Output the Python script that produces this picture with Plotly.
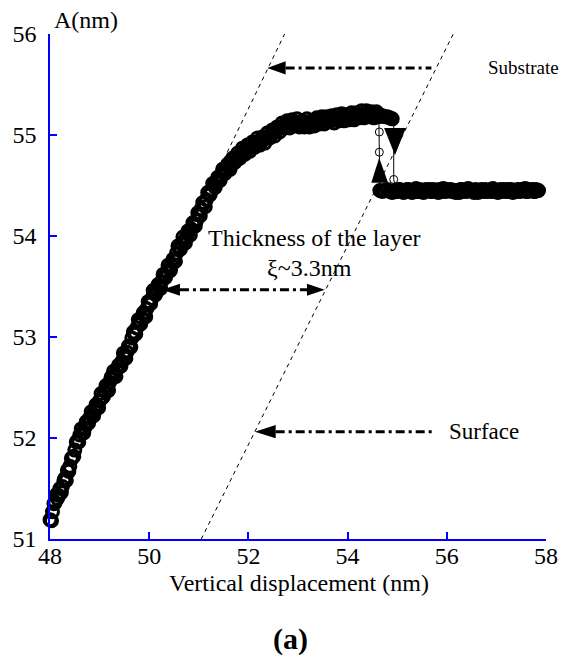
import plotly.graph_objects as go

# ---------------- data ----------------
# approach pass, upper branch (ascending displacement)
approach_upper_x = [48.00, 48.05, 48.10, 48.15, 48.20, 48.25, 48.30, 48.35, 48.40, 48.45,
                    48.50, 48.55, 48.60, 48.65, 48.70, 48.75, 48.80, 48.85, 48.90, 48.95,
                    49.00, 49.05, 49.10, 49.15, 49.20, 49.25, 49.30, 49.35, 49.40, 49.45,
                    49.50, 49.55, 49.60, 49.65, 49.70, 49.75, 49.80, 49.85, 49.90, 49.95,
                    50.00, 50.05, 50.10, 50.15, 50.20, 50.25, 50.30, 50.35, 50.40, 50.45,
                    50.50, 50.55, 50.60, 50.65, 50.70, 50.75, 50.80, 50.85, 50.90, 50.95,
                    51.00, 51.05, 51.10, 51.15, 51.20, 51.25, 51.30, 51.35, 51.40, 51.45,
                    51.50, 51.55, 51.60, 51.65, 51.70, 51.75, 51.80, 51.85, 51.90, 51.95,
                    52.00, 52.05, 52.10, 52.15, 52.20, 52.25, 52.30, 52.35, 52.40, 52.45,
                    52.50, 52.55, 52.60, 52.65, 52.70, 52.75, 52.80, 52.85, 52.90, 52.95,
                    53.00, 53.05, 53.10, 53.15, 53.20, 53.25, 53.30, 53.35, 53.40, 53.45,
                    53.50, 53.55, 53.60, 53.65, 53.70, 53.75, 53.80, 53.85, 53.90, 53.95,
                    54.00, 54.05, 54.10, 54.15, 54.20, 54.25, 54.30, 54.35, 54.40, 54.45,
                    54.50, 54.55, 54.60, 54.65, 54.70, 54.75, 54.80, 54.85, 54.90]
approach_upper_y = [51.19, 51.27, 51.36, 51.40, 51.50, 51.52, 51.60, 51.68, 51.72, 51.80,
                    51.88, 51.97, 52.03, 52.05, 52.10, 52.14, 52.20, 52.22, 52.28, 52.31,
                    52.37, 52.40, 52.46, 52.49, 52.55, 52.59, 52.62, 52.68, 52.72, 52.76,
                    52.81, 52.85, 52.91, 52.99, 53.03, 53.09, 53.15, 53.19, 53.22, 53.28,
                    53.33, 53.38, 53.44, 53.47, 53.50, 53.55, 53.60, 53.64, 53.68, 53.71,
                    53.77, 53.83, 53.88, 53.92, 53.95, 53.99, 54.04, 54.07, 54.11, 54.15,
                    54.21, 54.27, 54.32, 54.36, 54.42, 54.45, 54.50, 54.53, 54.57, 54.60,
                    54.63, 54.66, 54.68, 54.72, 54.76, 54.77, 54.79, 54.81, 54.84, 54.86,
                    54.87, 54.88, 54.90, 54.92, 54.93, 54.95, 54.95, 54.97, 54.99, 55.00,
                    55.02, 55.04, 55.06, 55.07, 55.09, 55.10, 55.10, 55.11, 55.12, 55.12,
                    55.12, 55.11, 55.12, 55.12, 55.13, 55.11, 55.12, 55.13, 55.14, 55.14,
                    55.15, 55.14, 55.15, 55.16, 55.15, 55.17, 55.16, 55.17, 55.18, 55.17,
                    55.17, 55.18, 55.19, 55.18, 55.19, 55.20, 55.19, 55.20, 55.21, 55.20,
                    55.20, 55.21, 55.19, 55.20, 55.19, 55.18, 55.18, 55.17, 55.16]
# approach pass: drop from upper to lower branch
approach_drop_x = [54.93, 54.93]
approach_drop_y = [55.15, 54.56]
# approach pass, lower branch
approach_lower_x = [54.98, 55.03, 55.08, 55.13, 55.18, 55.23, 55.28, 55.33, 55.38, 55.43,
                    55.48, 55.53, 55.58, 55.63, 55.68, 55.73, 55.78, 55.83, 55.88, 55.93,
                    55.98, 56.03, 56.08, 56.13, 56.18, 56.23, 56.28, 56.33, 56.38, 56.43,
                    56.48, 56.53, 56.58, 56.63, 56.68, 56.73, 56.78, 56.83, 56.88, 56.93,
                    56.98, 57.03, 57.08, 57.13, 57.18, 57.23, 57.28, 57.33, 57.38, 57.43,
                    57.48, 57.53, 57.58, 57.63, 57.68, 57.73, 57.78, 57.83]
approach_lower_y = [54.44, 54.46, 54.45, 54.43, 54.45, 54.46, 54.44, 54.45, 54.47, 54.44,
                    54.45, 54.43, 54.46, 54.45, 54.44, 54.46, 54.45, 54.43, 54.45, 54.47,
                    54.44, 54.45, 54.46, 54.44, 54.43, 54.45, 54.46, 54.44, 54.45, 54.47,
                    54.45, 54.44, 54.46, 54.43, 54.45, 54.44, 54.46, 54.45, 54.44, 54.47,
                    54.45, 54.43, 54.46, 54.45, 54.44, 54.46, 54.45, 54.43, 54.45, 54.46,
                    54.44, 54.45, 54.47, 54.44, 54.45, 54.46, 54.44, 54.45]

# retract pass, lower branch (descending displacement)
retract_lower_x = [57.85, 57.80, 57.75, 57.70, 57.65, 57.60, 57.55, 57.50, 57.45, 57.40,
                   57.35, 57.30, 57.25, 57.20, 57.15, 57.10, 57.05, 57.00, 56.95, 56.90,
                   56.85, 56.80, 56.75, 56.70, 56.65, 56.60, 56.55, 56.50, 56.45, 56.40,
                   56.35, 56.30, 56.25, 56.20, 56.15, 56.10, 56.05, 56.00, 55.95, 55.90,
                   55.85, 55.80, 55.75, 55.70, 55.65, 55.60, 55.55, 55.50, 55.45, 55.40,
                   55.35, 55.30, 55.25, 55.20, 55.15, 55.10, 55.05, 55.00, 54.95, 54.90,
                   54.85, 54.80, 54.75, 54.70, 54.65]
retract_lower_y = [54.45, 54.46, 54.44, 54.45, 54.46, 54.44, 54.45, 54.46, 54.45, 54.44,
                   54.45, 54.46, 54.44, 54.45, 54.46, 54.44, 54.45, 54.45, 54.44, 54.46,
                   54.45, 54.44, 54.45, 54.46, 54.44, 54.45, 54.43, 54.45, 54.46, 54.44,
                   54.45, 54.46, 54.43, 54.45, 54.45, 54.44, 54.45, 54.46, 54.45, 54.44,
                   54.46, 54.45, 54.45, 54.44, 54.46, 54.45, 54.44, 54.45, 54.46, 54.44,
                   54.45, 54.43, 54.45, 54.46, 54.44, 54.45, 54.46, 54.44, 54.45, 54.43,
                   54.44, 54.46, 54.45, 54.44, 54.45]
# retract pass: jump from lower to upper branch
retract_jump_x = [54.64, 54.64]
retract_jump_y = [54.83, 55.03]
# retract pass, upper branch (listed ascending)
retract_upper_x = [48.03, 48.08, 48.13, 48.18, 48.23, 48.28, 48.33, 48.38, 48.43, 48.48,
                   48.53, 48.58, 48.63, 48.68, 48.73, 48.78, 48.83, 48.88, 48.93, 48.98,
                   49.03, 49.08, 49.13, 49.18, 49.23, 49.28, 49.33, 49.38, 49.43, 49.48,
                   49.53, 49.58, 49.63, 49.68, 49.73, 49.78, 49.83, 49.88, 49.93, 49.98,
                   50.03, 50.08, 50.13, 50.18, 50.23, 50.28, 50.33, 50.38, 50.43, 50.48,
                   50.53, 50.58, 50.63, 50.68, 50.73, 50.78, 50.83, 50.88, 50.93, 50.98,
                   51.03, 51.08, 51.13, 51.18, 51.23, 51.28, 51.33, 51.38, 51.43, 51.48,
                   51.53, 51.58, 51.63, 51.68, 51.73, 51.78, 51.83, 51.88, 51.93, 51.98,
                   52.03, 52.08, 52.13, 52.18, 52.23, 52.28, 52.33, 52.38, 52.43, 52.48,
                   52.53, 52.58, 52.63, 52.68, 52.73, 52.78, 52.83, 52.88, 52.93, 52.98,
                   53.03, 53.08, 53.13, 53.18, 53.23, 53.28, 53.33, 53.38, 53.43, 53.48,
                   53.53, 53.58, 53.63, 53.68, 53.73, 53.78, 53.83, 53.88, 53.93, 53.98,
                   54.03, 54.08, 54.13, 54.18, 54.23, 54.28, 54.33, 54.38, 54.43, 54.48,
                   54.53, 54.58, 54.63]
retract_upper_y = [51.18, 51.35, 51.44, 51.43, 51.46, 51.58, 51.58, 51.67, 51.80, 51.82,
                   51.96, 51.96, 52.09, 52.05, 52.16, 52.15, 52.26, 52.22, 52.33, 52.30,
                   52.44, 52.41, 52.52, 52.47, 52.60, 52.66, 52.61, 52.72, 52.71, 52.84,
                   52.79, 52.91, 52.90, 53.05, 53.03, 53.17, 53.13, 53.24, 53.20, 53.35,
                   53.33, 53.46, 53.42, 53.52, 53.48, 53.62, 53.59, 53.71, 53.66, 53.77,
                   53.75, 53.90, 53.87, 53.99, 53.93, 54.05, 54.01, 54.13, 54.10, 54.23,
                   54.20, 54.33, 54.29, 54.43, 54.41, 54.52, 54.48, 54.58, 54.55, 54.66,
                   54.62, 54.71, 54.66, 54.77, 54.73, 54.82, 54.77, 54.87, 54.81, 54.90,
                   54.84, 54.93, 54.88, 54.97, 54.90, 54.98, 54.92, 55.02, 54.97, 55.05,
                   54.99, 55.08, 55.03, 55.12, 55.07, 55.14, 55.07, 55.15, 55.09, 55.16,
                   55.08, 55.14, 55.08, 55.16, 55.08, 55.14, 55.09, 55.17, 55.11, 55.18,
                   55.11, 55.18, 55.13, 55.19, 55.12, 55.20, 55.14, 55.21, 55.14, 55.20,
                   55.15, 55.22, 55.15, 55.22, 55.17, 55.24, 55.17, 55.24, 55.18, 55.23,
                   55.17, 55.23, 55.18]

x_ticks = [48, 50, 52, 54, 56, 58]
y_ticks = [51, 52, 53, 54, 55, 56]

# guide lines (substrate / surface), endpoints in data units
substrate_line_x = [51.15, 52.73]
substrate_line_y = [54.40, 56.00]
surface_line_x = [51.05, 56.13]
surface_line_y = [51.00, 56.00]

# ---------------- figure ----------------
BLUE = "#0000ff"
FONT = "Liberation Serif, Times New Roman, serif"
fig = go.Figure()

# dense branches (big overlapping open circles)
branches = [
    (approach_upper_x + approach_lower_x, approach_upper_y + approach_lower_y),
    (retract_lower_x + retract_upper_x[::-1], retract_lower_y + retract_upper_y[::-1]),
]
for xs, ys in branches:
    fig.add_trace(go.Scatter(
        x=xs, y=ys, mode="markers",
        marker=dict(symbol="circle-open", size=12, color="black",
                    line=dict(width=3, color="black")),
        showlegend=False, cliponaxis=False))

# isolated transition points (drop / jump) with their connecting lines
transitions = [
    (approach_upper_x[-1:] + approach_drop_x + approach_lower_x[:1],
     approach_upper_y[-1:] + approach_drop_y + approach_lower_y[:1]),
    (retract_lower_x[-1:] + retract_jump_x + retract_upper_x[-1:],
     retract_lower_y[-1:] + retract_jump_y + retract_upper_y[-1:]),
]
for xs, ys in transitions:
    fig.add_trace(go.Scatter(
        x=xs, y=ys, mode="lines+markers",
        line=dict(color="black", width=1),
        marker=dict(symbol="circle-open", size=8, color="black",
                    line=dict(width=1, color="black")),
        showlegend=False, cliponaxis=False))

for xs, ys in ((substrate_line_x, substrate_line_y), (surface_line_x, surface_line_y)):
    fig.add_trace(go.Scatter(
        x=xs, y=ys, mode="lines",
        line=dict(color="black", width=1, dash="4px,4px"),
        showlegend=False, hoverinfo="skip"))

DD = "9px,4px,3px,4px"


def arrow_left(tip_x, y, tail_x, head_len, half_h):
    base = tip_x + head_len
    fig.add_shape(type="line", x0=base, x1=tail_x, y0=y, y1=y,
                  line=dict(color="black", width=3, dash=DD))
    fig.add_shape(type="path", fillcolor="black", line=dict(width=0),
                  path=f"M {tip_x},{y} L {base},{y + half_h} L {base},{y - half_h} Z")


def head_right(tip_x, y, head_len, half_h):
    base = tip_x - head_len
    fig.add_shape(type="path", fillcolor="black", line=dict(width=0),
                  path=f"M {tip_x},{y} L {base},{y + half_h} L {base},{y - half_h} Z")


# Substrate arrow
arrow_left(52.38, 55.664, 55.69, 0.37, 0.065)
# Surface arrow
arrow_left(52.13, 52.063, 55.77, 0.42, 0.065)
# Thickness double arrow
arrow_left(50.26, 53.468, 53.20, 0.36, 0.06)
head_right(53.54, 53.468, 0.36, 0.06)

# jump triangles
fig.add_shape(type="path", fillcolor="black", line=dict(width=0),
              path="M 54.478,54.526 L 54.816,54.526 L 54.637,54.774 Z")
fig.add_shape(type="path", fillcolor="black", line=dict(width=0),
              path="M 54.736,55.07 L 55.174,55.07 L 54.955,54.80 Z")

fig.add_annotation(x=56.79, y=55.664, text="Substrate", showarrow=False,
                   xanchor="left", yanchor="middle",
                   font=dict(family=FONT, size=19, color="black"))
fig.add_annotation(x=56.01, y=52.063, text="Surface", showarrow=False,
                   xanchor="left", yanchor="middle",
                   font=dict(family=FONT, size=23, color="black"))
fig.add_annotation(x=53.34, y=53.98, text="Thickness of the layer", showarrow=False,
                   xanchor="center", yanchor="middle", font=dict(family=FONT, size=24, color="black"))
fig.add_annotation(x=53.24, y=53.685, text="ξ~3.3nm", showarrow=False,
                   xanchor="center", yanchor="middle", font=dict(family=FONT, size=24, color="black"))

# axis titles and panel label
fig.add_annotation(xref="paper", yref="paper", x=0.005, y=1.027, text="A(nm)",
                   showarrow=False, xanchor="left", yanchor="middle",
                   font=dict(family=FONT, size=24, color="black"))
fig.add_annotation(xref="paper", yref="paper", x=0.5015, y=-0.088,
                   text="Vertical displacement (nm)", showarrow=False,
                   xanchor="center", yanchor="middle",
                   font=dict(family=FONT, size=24, color="black"))
fig.add_annotation(xref="paper", yref="paper", x=0.485, y=-0.199,
                   text="<b>(a)</b>", showarrow=False,
                   xanchor="center", yanchor="middle",
                   font=dict(family=FONT, size=30, color="black"))

axis_common = dict(showline=True, linecolor=BLUE, linewidth=1.5, mirror=False,
                   ticks="inside", ticklen=7, tickwidth=1.5, tickcolor=BLUE,
                   showgrid=False, zeroline=False,
                   tickfont=dict(family=FONT, size=24, color="black"))
fig.update_xaxes(range=[48, 58], tickvals=x_ticks, ticktext=[str(t) for t in x_ticks],
                 ticklabelstandoff=-6, **axis_common)
fig.update_yaxes(range=[51, 56], tickvals=y_ticks, ticktext=[str(t) for t in y_ticks],
                 ticklabelstandoff=7, **axis_common)

fig.update_layout(width=570, height=664, autosize=False,
                  margin=dict(l=50, r=18, t=34, b=125, pad=0),
                  plot_bgcolor="white", paper_bgcolor="white",
                  font=dict(family=FONT, color="black"))

fig.write_html("out.html", config={"displayModeBar": False},
               post_script="document.body.style.margin='0';document.body.style.padding='0';")
